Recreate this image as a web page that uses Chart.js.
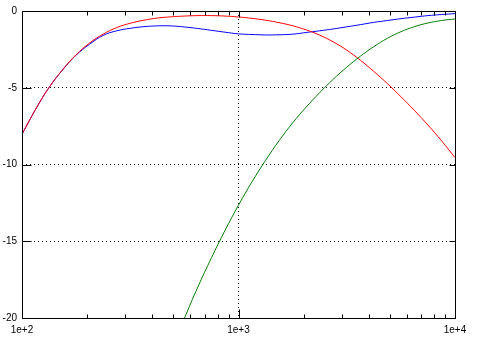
<!DOCTYPE html>
<html>
<head>
<meta charset="utf-8">
<script src="https://cdn.jsdelivr.net/npm/chart.js@4/dist/chart.umd.min.js"></script>
<style>
  html, body { margin: 0; padding: 0; background: #fff; }
  #wrap { width: 480px; height: 344px; }
</style>
</head>
<body>
<div id="wrap"><canvas id="c" width="480" height="344"></canvas></div>
<script>
// Frequencies (Hz) shared by the red and blue curves
const freqs = [100, 115, 133, 154, 178, 205, 237, 274, 316, 365, 422, 487, 562, 649, 750, 866, 1000, 1155, 1334, 1540, 1778, 2054, 2371, 2738, 3162, 3652, 4217, 4870, 5623, 6494, 7499, 8660, 10000];
// Red curve (dB)
const redValues = [-8.03, -6.45, -5.0, -3.82, -2.84, -2.09, -1.51, -1.08, -0.80, -0.60, -0.46, -0.38, -0.33, -0.30, -0.30, -0.33, -0.39, -0.48, -0.60, -0.76, -0.96, -1.23, -1.57, -2.01, -2.55, -3.20, -3.94, -4.73, -5.58, -6.48, -7.43, -8.45, -9.55];
// Blue curve (dB)
const blueValues = [-8.03, -6.46, -5.01, -3.84, -2.87, -2.17, -1.59, -1.29, -1.13, -1.02, -0.97, -0.97, -1.04, -1.14, -1.26, -1.38, -1.49, -1.53, -1.56, -1.55, -1.51, -1.40, -1.29, -1.17, -1.03, -0.89, -0.74, -0.62, -0.50, -0.40, -0.30, -0.23, -0.17];
// Green curve: its own frequencies (Hz) and values (dB)
const greenFreqs = [487, 562, 649, 750, 866, 1000, 1155, 1334, 1540, 1778, 2054, 2371, 2738, 3162, 3652, 4217, 4870, 5623, 6494, 7499, 8660, 10000];
const greenValues = [-22.23, -20.04, -17.98, -16.08, -14.30, -12.65, -11.12, -9.73, -8.45, -7.29, -6.26, -5.32, -4.45, -3.66, -2.95, -2.32, -1.78, -1.35, -1.02, -0.78, -0.62, -0.52];

// Axis ticks
const xMajorTicks = [100, 1000, 10000];
const xMinorTicks = [200, 300, 400, 500, 600, 700, 800, 900, 2000, 3000, 4000, 5000, 6000, 7000, 8000, 9000];
const xTickLabels = { 100: '1e+2', 1000: '1e+3', 10000: '1e+4' };
const yTicks = [0, -5, -10, -15, -20];

const toPoints = (xs, ys) => xs.map((x, i) => ({ x: x, y: ys[i] }));

const frameTicks = {
  id: 'frameTicks',
  afterDraw(chart) {
    const { ctx, chartArea: a, scales } = chart;
    const L = a.left + 0.5, R = a.right + 0.5, T = a.top + 0.5, B = a.bottom + 0.5;
    ctx.save();
    ctx.strokeStyle = '#000';
    ctx.lineWidth = 1;
    ctx.setLineDash([]);
    ctx.beginPath();
    ctx.rect(L, T, R - L, B - T);
    xMinorTicks.forEach(v => {
      const px = Math.round(scales.x.getPixelForValue(v)) + 0.5;
      ctx.moveTo(px, B); ctx.lineTo(px, B - 4);
      ctx.moveTo(px, T); ctx.lineTo(px, T + 4);
    });
    xMajorTicks.forEach(v => {
      const px = Math.round(scales.x.getPixelForValue(v)) + 0.5;
      ctx.moveTo(px, B); ctx.lineTo(px, B - 9);
      ctx.moveTo(px, T); ctx.lineTo(px, T + 6);
    });
    yTicks.forEach(v => {
      const py = Math.round(scales.y.getPixelForValue(v)) + 0.5;
      ctx.moveTo(L, py); ctx.lineTo(L + 9, py);
      ctx.moveTo(R, py); ctx.lineTo(R - 6, py);
    });
    ctx.stroke();
    ctx.restore();
  }
};

const lineStyle = { borderWidth: 1, pointRadius: 0, fill: false, tension: 0.4 };

new Chart(document.getElementById('c'), {
  type: 'line',
  data: {
    datasets: [
      Object.assign({ label: 'green', data: toPoints(greenFreqs, greenValues), borderColor: '#008000' }, lineStyle),
      Object.assign({ label: 'red', data: toPoints(freqs, redValues), borderColor: '#ff0000' }, lineStyle),
      Object.assign({ label: 'blue', data: toPoints(freqs, blueValues), borderColor: '#0000ff' }, lineStyle)
    ]
  },
  options: {
    responsive: false,
    animation: false,
    events: [],
    layout: { padding: { top: 9, right: 25, left: 0, bottom: 0 } },
    plugins: { legend: { display: false }, tooltip: { enabled: false } },
    scales: {
      x: {
        type: 'logarithmic',
        min: 100,
        max: 10000,
        afterBuildTicks: (scale) => { scale.ticks = xMajorTicks.map(v => ({ value: v, major: true })); },
        afterFit: (scale) => { scale.height = 26; },
        ticks: {
          autoSkip: false,
          maxRotation: 0,
          minRotation: 0,
          padding: 6,
          color: '#000',
          font: { family: 'Liberation Sans', size: 10 },
          callback: (v) => xTickLabels[v] || ''
        },
        grid: {
          drawTicks: false,
          lineWidth: 1,
          color: (c) => (c.tick && c.tick.value === 1000) ? '#000' : 'rgba(0,0,0,0)'
        },
        border: { display: false, dash: [1, 3] }
      },
      y: {
        type: 'linear',
        min: -20,
        max: 0,
        afterBuildTicks: (scale) => { scale.ticks = yTicks.map(v => ({ value: v })); },
        afterFit: (scale) => { scale.width = 22; },
        ticks: {
          padding: 5,
          color: '#000',
          font: { family: 'Liberation Sans', size: 10 },
          callback: (v) => String(v)
        },
        grid: {
          drawTicks: false,
          lineWidth: 1,
          color: (c) => (c.tick && (c.tick.value === -5 || c.tick.value === -10 || c.tick.value === -15)) ? '#000' : 'rgba(0,0,0,0)'
        },
        border: { display: false, dash: [1, 3] }
      }
    }
  },
  plugins: [frameTicks]
});
</script>
</body>
</html>
